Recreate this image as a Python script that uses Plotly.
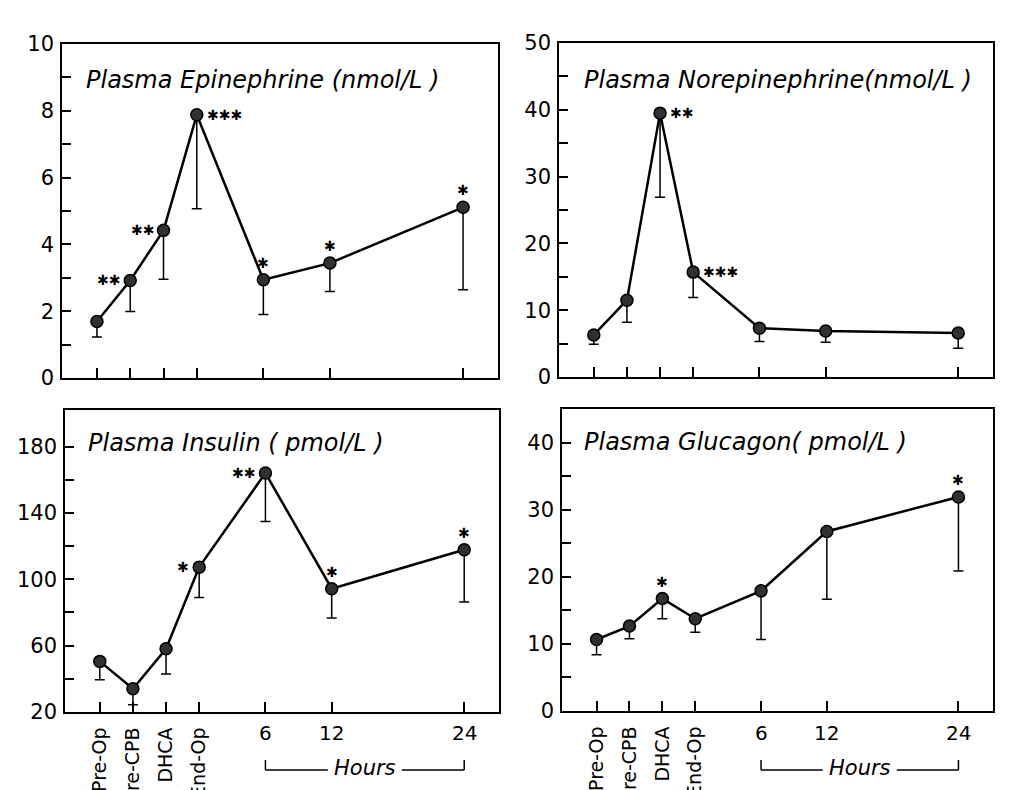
import plotly.graph_objects as go

W, H = 1018, 790
OFF = 8  # page body margin of the browser

categories = ["Pre-Op", "Pre-CPB", "DHCA", "End-Op"]
hours = [6, 12, 24]
hour_labels = ["6", "12", "24"]

epi_mean = [1.69, 2.92, 4.42, 7.88, 2.94, 3.44, 5.11]
epi_err = [0.46, 0.93, 1.46, 2.81, 1.04, 0.85, 2.47]
epi_sig = ["", "**", "**", "***", "*", "*", "*"]
epi_sig_pos = ["", "L", "L", "R", "U", "U", "U"]

norepi_mean = [6.3, 11.5, 39.5, 15.7, 7.3, 6.9, 6.6]
norepi_err = [1.4, 3.3, 12.6, 3.8, 2.0, 1.7, 2.3]
norepi_sig = ["", "", "**", "***", "", "", ""]
norepi_sig_pos = ["", "", "R", "R", "", "", ""]

insulin_mean = [50.5, 34.0, 58.1, 107.3, 164.0, 94.3, 117.8]
insulin_err = [11.0, 9.6, 15.2, 18.3, 29.2, 17.7, 31.5]
insulin_sig = ["", "", "", "*", "**", "*", "*"]
insulin_sig_pos = ["", "", "", "L", "L", "U", "U"]

glucagon_mean = [10.65, 12.65, 16.75, 13.75, 17.9, 26.75, 31.9]
glucagon_err = [2.25, 1.9, 3.0, 2.0, 7.25, 10.1, 11.05]
glucagon_sig = ["", "", "*", "", "", "", "*"]
glucagon_sig_pos = ["", "", "U", "", "", "", "U"]

titles = ["Plasma Epinephrine (nmol/L )", "Plasma Norepinephrine(nmol/L )",
          "Plasma Insulin ( pmol/L )", "Plasma Glucagon( pmol/L )"]

# x positions: categorical steps, then hours on a 1-step-per-3-hours scale
x_pos = list(range(len(categories))) + [len(categories) - 1 + h / 3 for h in hours]
X_RANGE = [-1.05, 12.05]

panels = [
    dict(box=(62, 44, 498, 378), yr=[0, 10], ytop=10, ymaj=2, ymin=1, mean=epi_mean, err=epi_err,
         sig=epi_sig, pos=epi_sig_pos, title=titles[0], tpos=(84, 80), bottom=False),
    dict(box=(559, 43, 993, 377), yr=[0, 50], ytop=50, ymaj=10, ymin=5, mean=norepi_mean, err=norepi_err,
         sig=norepi_sig, pos=norepi_sig_pos, title=titles[1], tpos=(582, 80), bottom=False),
    dict(box=(65, 410, 499, 712), yr=[20, 202], ytop=180, ymaj=40, ymin=20, mean=insulin_mean, err=insulin_err,
         sig=insulin_sig, pos=insulin_sig_pos, title=titles[2], tpos=(86, 443), bottom=True),
    dict(box=(562, 409, 993, 711), yr=[0, 45], ytop=40, ymaj=10, ymin=5, mean=glucagon_mean, err=glucagon_err,
         sig=glucagon_sig, pos=glucagon_sig_pos, title=titles[3], tpos=(582, 442), bottom=True),
]


def px(x):
    return (x - OFF) / W


def py(y):
    return 1 - (y - OFF) / H


FONT = "DejaVu Sans"
STAR = "\u2731"
fig = go.Figure()
annotations = []
shapes = []
layout = dict(template="none", width=W, height=H, margin=dict(l=0, r=0, t=0, b=0, pad=0),
              paper_bgcolor="white", plot_bgcolor="white", showlegend=False,
              font=dict(family=FONT, color="black"))

for i, p in enumerate(panels):
    n = "" if i == 0 else str(i + 1)
    xa, ya = "x" + n, "y" + n
    l, t, r, b = p["box"]
    xdom = [px(l), px(r)]
    ydom = [py(b), py(t)]

    fig.add_trace(go.Scatter(
        x=x_pos, y=p["mean"], xaxis=xa, yaxis=ya, mode="lines+markers",
        line=dict(color="black", width=2.5),
        marker=dict(size=12, color="#303030", line=dict(color="black", width=1.5)),
        error_y=dict(type="data", symmetric=False, array=[0] * len(p["err"]),
                     arrayminus=p["err"], color="black", thickness=1.5, width=5),
        cliponaxis=False,
    ))

    # y ticks
    y0 = p["yr"][0]
    vals, texts = [], []
    v = y0
    while v <= p["ytop"] + 1e-9:
        vals.append(v)
        k = (v - y0) / p["ymaj"]
        texts.append(str(int(v)) if abs(k - round(k)) < 1e-6 else "")
        v += p["ymin"]

    xaxis = dict(domain=xdom, anchor=ya, range=X_RANGE, showgrid=False, zeroline=False,
                 automargin=False,
                 showline=True, mirror=True, linecolor="black", linewidth=1.6,
                 ticks="inside", ticklen=10, tickwidth=1.5, tickcolor="black",
                 tickvals=x_pos)
    if p["bottom"]:
        xaxis.update(ticktext=categories + [""] * len(hours), tickangle=-90,
                     tickfont=dict(family=FONT, size=19, color="black"),
                     ticklabelstandoff=6)
    else:
        xaxis.update(showticklabels=False)
    yaxis = dict(domain=ydom, anchor=xa, range=p["yr"], showgrid=False, zeroline=False,
                 automargin=False,
                 showline=True, mirror=True, linecolor="black", linewidth=1.6,
                 ticks="inside", ticklen=9, tickwidth=1.5, tickcolor="black",
                 tickvals=vals, ticktext=texts,
                 tickfont=dict(family=FONT, size=21, color="black"), ticklabelstandoff=2)
    layout["xaxis" + n] = xaxis
    layout["yaxis" + n] = yaxis

    # title
    annotations.append(dict(text="<i>" + p["title"] + "</i>", xref="paper", yref="paper",
                            x=px(p["tpos"][0]), y=py(p["tpos"][1]), xanchor="left",
                            yanchor="middle", showarrow=False,
                            font=dict(family=FONT, size=24, color="black")))

    # significance stars
    for xi, yv, s, ps in zip(x_pos, p["mean"], p["sig"], p["pos"]):
        if not s:
            continue
        a = dict(text=STAR * len(s), xref=xa, yref=ya, x=xi, y=yv, showarrow=False,
                 font=dict(family=FONT, size=14, color="black"))
        if ps == "L":
            a.update(xanchor="right", yanchor="middle", xshift=-8, yshift=0)
        elif ps == "R":
            a.update(xanchor="left", yanchor="middle", xshift=8, yshift=0)
        else:
            a.update(xanchor="center", yanchor="middle", yshift=17)
        annotations.append(a)

    if p["bottom"]:
        def to_paper(xv):
            return xdom[0] + (xv - X_RANGE[0]) / (X_RANGE[1] - X_RANGE[0]) * (xdom[1] - xdom[0])
        hx = x_pos[len(categories):]
        for xv, lab in zip(hx, hour_labels):
            annotations.append(dict(text=lab, xref=xa, yref="paper", x=xv, y=py(733),
                                    xanchor="center", yanchor="middle", showarrow=False,
                                    font=dict(family=FONT, size=20, color="black")))
        xl, xr = to_paper(hx[0]), to_paper(hx[-1])
        xc = (xl + xr) / 2
        yl = py(770)
        yt = py(760)
        gap = 37 / W
        annotations.append(dict(text="<i>Hours</i>", xref="paper", yref="paper", x=xc,
                                y=py(768), xanchor="center", yanchor="middle", showarrow=False,
                                font=dict(family=FONT, size=21, color="black")))
        line = dict(color="black", width=1.5)
        shapes += [
            dict(type="line", xref="paper", yref="paper", x0=xl, x1=xl, y0=yt, y1=yl, line=line),
            dict(type="line", xref="paper", yref="paper", x0=xl, x1=xc - gap, y0=yl, y1=yl, line=line),
            dict(type="line", xref="paper", yref="paper", x0=xc + gap, x1=xr, y0=yl, y1=yl, line=line),
            dict(type="line", xref="paper", yref="paper", x0=xr, x1=xr, y0=yt, y1=yl, line=line),
        ]

layout["annotations"] = annotations
layout["shapes"] = shapes
fig.update_layout(**layout)
fig.write_html("out.html")
